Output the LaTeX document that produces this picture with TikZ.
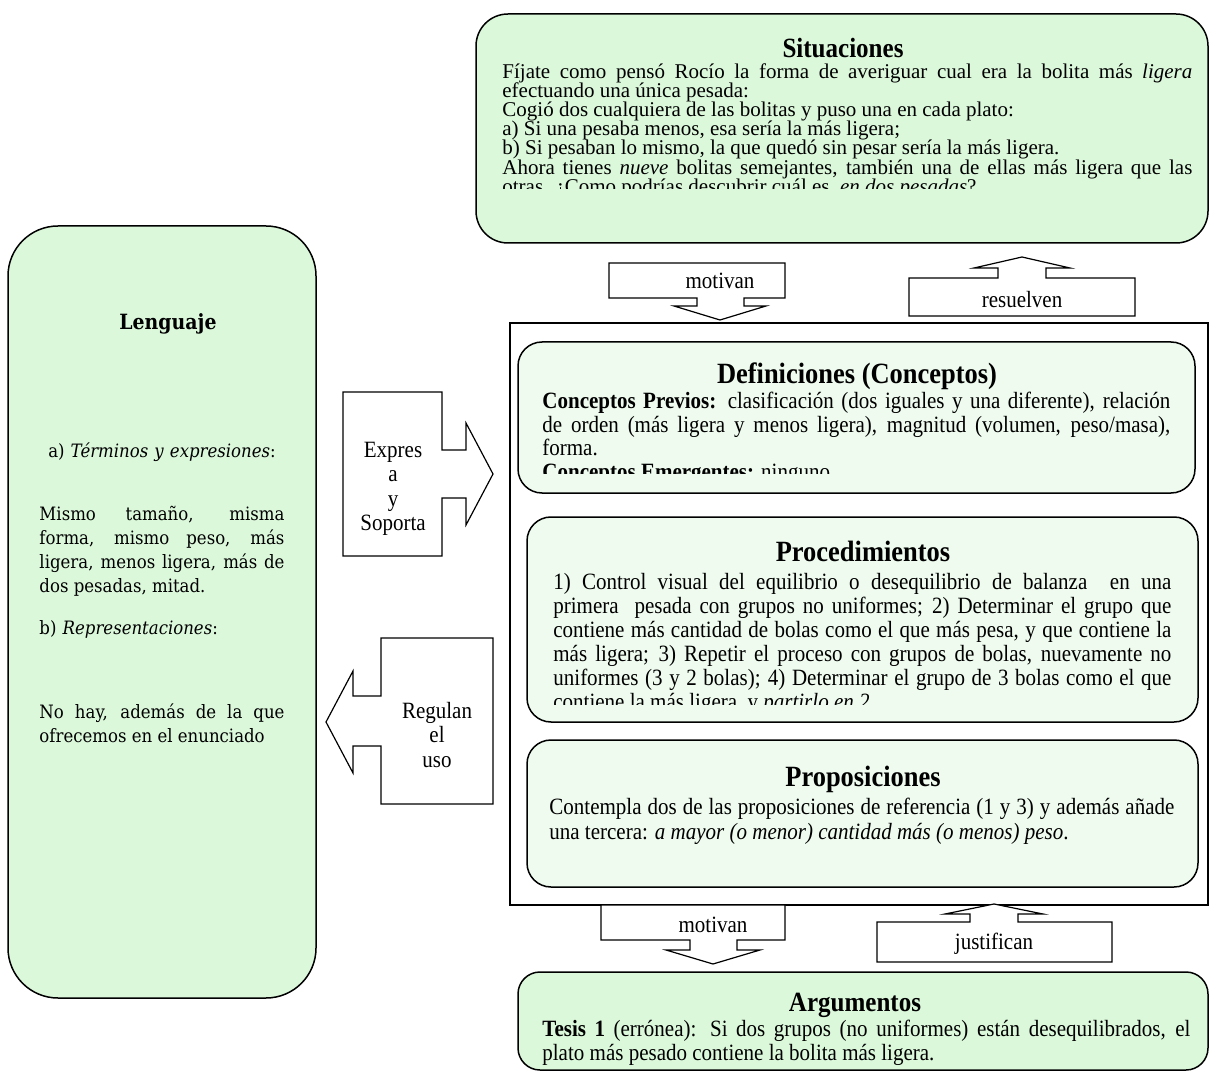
\documentclass[tikz,border=0pt]{standalone}
\usepackage{fontspec}
\setmainfont[FakeStretch=0.9]{Liberation Serif}
\newfontfamily\sitfont{Liberation Serif}
\newfontfamily\lengfont[FakeStretch=0.9]{DejaVu Serif}
\usetikzlibrary{positioning}

\definecolor{verde}{RGB}{219,248,219}
\definecolor{verdeclaro}{RGB}{238,251,238}
\newcommand\apretado{\lineskiplimit=-20pt\relax}

\tikzset{
  caja/.style={draw, line width=0.75pt, fill=verde, rounded corners=16pt, inner sep=0pt},
  cajaclara/.style={caja, fill=verdeclaro, rounded corners=12pt},
  titulo/.style={inner sep=0pt, font=\bfseries\fontsize{13.9}{15}\selectfont},
  titmedio/.style={inner sep=0pt, font=\bfseries\fontsize{14.7}{16}\selectfont},
  cuerpo/.style={anchor=north west, inner sep=0pt, align=justify, font=\fontsize{11.67}{12}\selectfont\apretado},
  flecha/.style={draw, line width=0.6pt, fill=white},
  rotulo/.style={inner sep=0pt, align=center, font=\fontsize{11.67}{12.2}\selectfont},
  lengtxt/.style={inner sep=0pt, text width=122.5pt, font=\lengfont\fontsize{9.2}{12}\selectfont},
}

\begin{document}
\begin{tikzpicture}[x=0.5pt, y=-0.5pt]
    \useasboundingbox (0,0) rectangle (1210,1080);

    % Situaciones
    \node[caja, minimum width=366pt, minimum height=114.5pt] (sit) at (842,128.5) {};
    \node[titulo] (sit-t) at (843,48) {Situaciones};
    \begin{scope}
        \clip (476,14) rectangle (1208,189);
        \node[cuerpo, text width=345pt, font=\sitfont\fontsize{10.5}{9.6}\selectfont\apretado] (sit-c) at (502,63)
            {Fíjate como pensó Rocío la forma de averiguar cual era la bolita más \textit{ligera}\linebreak
             efectuando una única pesada:\\
             Cogió dos cualquiera de las bolitas y puso una en cada plato:\\
             a) Si una pesaba menos, esa sería la más ligera;\\
             b) Si pesaban lo mismo, la que quedó sin pesar sería la más ligera.\\
             Ahora tienes \textit{nueve} bolitas semejantes, también una de ellas más ligera que las\linebreak
             otras. ¿Como podrías descubrir cuál es, \textit{en dos pesadas}?};
    \end{scope}

    % Lenguaje
    \node[caja, rounded corners=25pt, minimum width=154pt, minimum height=386pt] (leng) at (162,612) {};
    \node[titulo, font=\lengfont\bfseries\fontsize{10.5}{12}\selectfont] (leng-t) at (168,324) {Lenguaje};
    \node[lengtxt, align=center] (leng-a) at (162,452) {a) \textit{Términos y expresiones}:};
    \node[lengtxt, align=justify] (leng-b) at (162,551)
        {Mismo tamaño, misma\linebreak forma, mismo peso, más\linebreak ligera, menos ligera, más de\linebreak dos pesadas, mitad.};
    \node[lengtxt, align=left] (leng-c) at (162,629) {b) \textit{Representaciones}:};
    \node[lengtxt, align=justify] (leng-d) at (162,723) {No hay, además de la que\linebreak ofrecemos en el enunciado};

    % marco central
    \node[draw, line width=0.75pt, inner sep=0pt, minimum width=349pt, minimum height=291pt] (marco) at (859,614) {};

    % Definiciones
    \node[cajaclara, minimum width=338.5pt, minimum height=75.5pt] (def) at (856.5,417.5) {};
    \node[titmedio] (def-t) at (857,376) {Definiciones (Conceptos)};
    \begin{scope}
        \clip (518,342) rectangle (1195,474);
        \node[cuerpo, text width=314pt, font=\fontsize{11.67}{11.7}\selectfont\apretado] (def-c) at (542,392)
            {\textbf{Conceptos Previos:} clasificación (dos iguales y una diferente), relación\linebreak
             de orden (más ligera y menos ligera), magnitud (volumen, peso/masa),\linebreak
             forma.\\
             \textbf{Conceptos Emergentes:} ninguno};
    \end{scope}

    % Procedimientos
    \node[cajaclara, minimum width=335.5pt, minimum height=102.5pt] (proc) at (862.5,619.5) {};
    \node[titmedio] (proc-t) at (863,551) {Procedimientos};
    \begin{scope}
        \clip (527,517) rectangle (1198,704);
        \node[cuerpo, text width=309pt] (proc-c) at (553,573)
            {1) Control visual del equilibrio o desequilibrio de balanza \ en una\linebreak
             primera \ pesada con grupos no uniformes; 2) Determinar el grupo que\linebreak
             contiene más cantidad de bolas como el que más pesa, y que contiene la\linebreak
             más ligera; 3) Repetir el proceso con grupos de bolas, nuevamente no\linebreak
             uniformes (3 y 2 bolas); 4) Determinar el grupo de 3 bolas como el que\linebreak
             contiene la más ligera, y \textit{partirlo en 2}};
    \end{scope}

    % Proposiciones
    \node[cajaclara, minimum width=335.5pt, minimum height=73.5pt] (prop) at (862.5,813.5) {};
    \node[titmedio] (prop-t) at (863,779) {Proposiciones};
    \node[cuerpo, text width=312.5pt, font=\fontsize{11.67}{12.5}\selectfont\apretado] (prop-c) at (549,798)
        {Contempla dos de las proposiciones de referencia (1 y 3) y además añade\linebreak
         una tercera: \textit{a mayor (o menor) cantidad más (o menos) peso}.};

    % Argumentos
    \node[caja, rounded corners=11pt, minimum width=345pt, minimum height=49pt] (arg) at (863,1021) {};
    \node[titulo] (arg-t) at (855,1005) {Argumentos};
    \node[cuerpo, text width=324pt] (arg-c) at (542,1020)
        {\textbf{Tesis 1} (errónea): Si dos grupos (no uniformes) están desequilibrados, el\linebreak
         plato más pesado contiene la bolita más ligera.};

    % flechas
    \draw[flecha] (609,263) -- (785,263) -- (785,298) -- (744,298) -- (744,306) -- (766,306)
        -- (720,320) -- (674,306) -- (697,306) -- (697,298) -- (609,298) -- cycle;
    \node[rotulo] (motiv-a) at (720,281) {motivan};

    \draw[flecha] (909,278) -- (998,278) -- (998,268) -- (974,268) -- (1022,257) -- (1070,268)
        -- (1046,268) -- (1046,278) -- (1135,278) -- (1135,316) -- (909,316) -- cycle;
    \node[rotulo] (resuel) at (1022,300) {resuelven};

    \draw[flecha] (601,905) -- (785,905) -- (785,940) -- (737,940) -- (737,950) -- (760,950)
        -- (713,964) -- (666,950) -- (690,950) -- (690,940) -- (601,940) -- cycle;
    \node[rotulo] (motiv-b) at (713,925) {motivan};

    \draw[flecha] (877,922) -- (970,922) -- (970,914) -- (945,914) -- (994,904) -- (1043,914)
        -- (1018,914) -- (1018,922) -- (1112,922) -- (1112,962) -- (877,962) -- cycle;
    \node[rotulo] (justif) at (994,944) {justifican};

    \draw[flecha] (343,392) -- (442,392) -- (442,450) -- (466,450) -- (466,423) -- (493,474)
        -- (466,525) -- (466,498) -- (442,498) -- (442,556) -- (343,556) -- cycle;
    \node[rotulo] (expresa) at (393,489) {Expres\\a\\y\\Soporta};

    \draw[flecha] (381,638) -- (493,638) -- (493,804) -- (381,804) -- (381,746) -- (353,746)
        -- (353,773) -- (326,722) -- (353,671) -- (353,696) -- (381,696) -- cycle;
    \node[rotulo] (regulan) at (437,735) {Regulan\\el\\uso};
\end{tikzpicture}
\end{document}
